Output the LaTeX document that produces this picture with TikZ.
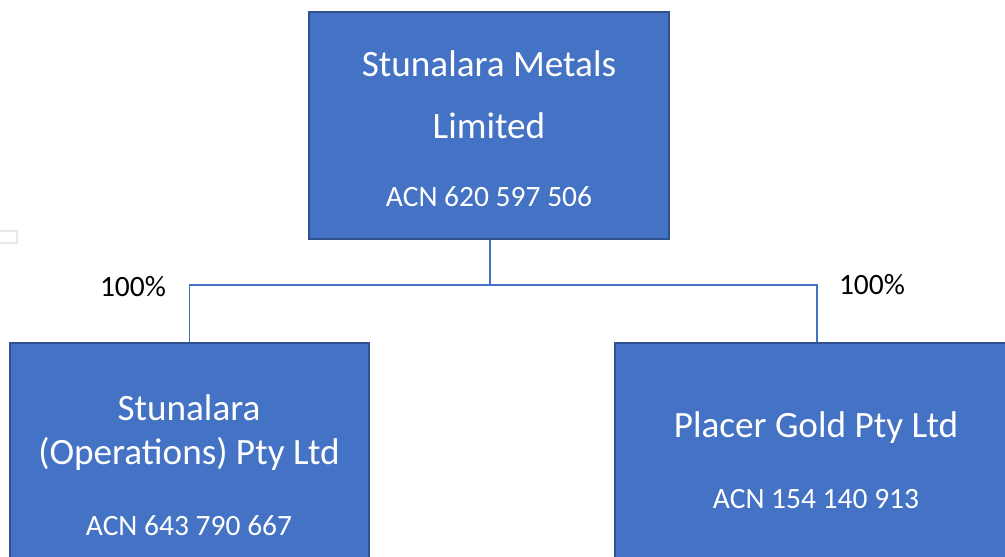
\documentclass[tikz,border=0pt]{standalone}
\usepackage{fontspec}
\setmainfont{Carlito}
\definecolor{boxfill}{HTML}{4472C4}
\definecolor{boxline}{HTML}{2F528F}
\begin{document}
\begin{tikzpicture}[x=1pt,y=-1pt,
  entity/.style={draw=boxline,line width=2pt,fill=boxfill,rectangle,inner sep=0pt},
  title/.style={text=white,font=\fontsize{37.2}{44}\selectfont,anchor=center,inner sep=0pt},
  acn/.style={text=white,font=\fontsize{29.5}{35}\selectfont,anchor=center,inner sep=0pt},
  pct/.style={text=black,font=\fontsize{29.5}{35}\selectfont,anchor=center,inner sep=0pt},
  link/.style={draw=boxfill,line width=1.4pt}]
\useasboundingbox (0,0) rectangle (1005,557);
\begin{scope}
\clip (0,0) rectangle (1005,557);
\draw[gray!18,line width=2pt] (-5,230.5) rectangle (17,242.5);
\node[entity,minimum width=360pt,minimum height=227pt] (top) at (489,125.5) {};
\node[entity,minimum width=359pt,minimum height=240pt] (left) at (189.5,463) {};
\node[entity,minimum width=404pt,minimum height=240pt] (right) at (817,463) {};
\node[title] (t1) at (489,64) {Stunalara Metals};
\node[title] (t2) at (489,126) {Limited};
\node[acn] (t3) at (489,197) {ACN 620 597 506};
\node[title] (l1) at (189,408) {Stunalara};
\node[title] (l2) at (189,454) {(Operations) Pty Ltd};
\node[acn] (l3) at (189,526) {ACN 643 790 667};
\node[title] (r1) at (816,428) {Placer Gold Pty Ltd};
\node[acn] (r2) at (816,499) {ACN 154 140 913};
\node[pct] (p1) at (133,287) {100\%};
\node[pct] (p2) at (872,285) {100\%};
\coordinate (j) at (490,285);
\draw[link] (top.south -| j) -- (j);
\draw[link] (j) -| (left.north);
\draw[link] (j) -| (right.north);
\end{scope}
\end{tikzpicture}
\end{document}
